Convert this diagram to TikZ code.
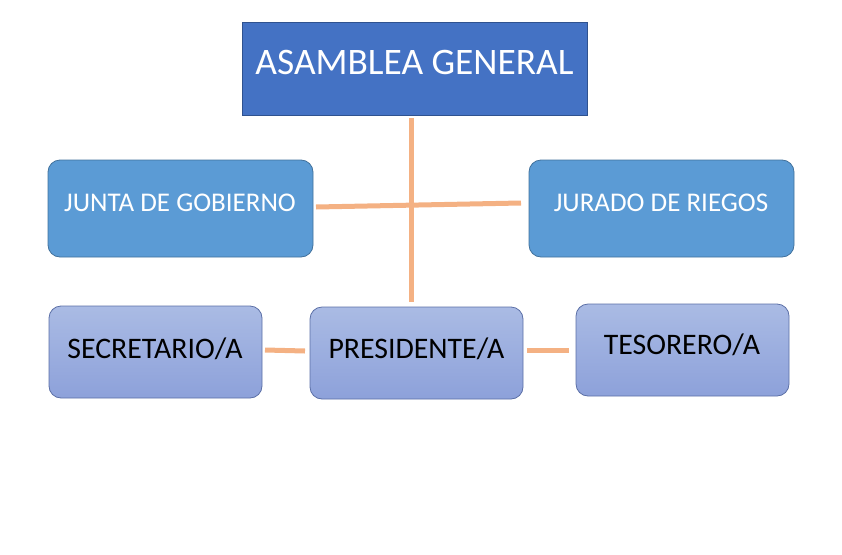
\documentclass[tikz,border=0pt]{standalone}
\usepackage{fontspec}
\setmainfont{Carlito}
\definecolor{topblue}{HTML}{4472C4}
\definecolor{topedge}{HTML}{2F528F}
\definecolor{midblue}{HTML}{5B9BD5}
\definecolor{midedge}{HTML}{41719C}
\definecolor{lavtop}{HTML}{AABBE4}
\definecolor{lavbot}{HTML}{8DA1DA}
\definecolor{lavedge}{HTML}{5B6FA6}
\definecolor{link}{HTML}{F4B183}
\begin{document}
\begin{tikzpicture}[x=1pt,y=-1pt,
  topbox/.style={draw=topedge,fill=topblue,line width=0.8pt,minimum width=345pt,minimum height=93pt,inner sep=0pt},
  midbox/.style={draw=midedge,fill=midblue,line width=0.8pt,rounded corners=12pt,minimum width=265pt,minimum height=97pt,inner sep=0pt},
  lowbox/.style={draw=lavedge,top color=lavtop,bottom color=lavbot,line width=0.8pt,rounded corners=12pt,minimum width=213pt,minimum height=92pt,inner sep=0pt},
  toptext/.style={inner sep=0pt,text=white,font=\fontsize{37.4}{37.4}\selectfont},
  midtext/.style={inner sep=0pt,text=white,font=\fontsize{27}{27}\selectfont},
  lowtext/.style={inner sep=0pt,text=black,font=\fontsize{29.8}{29.8}\selectfont},
  linkline/.style={draw=link,line width=5pt}]
\useasboundingbox (0,0) rectangle (842,554);
\node[topbox] (asam) at (414.5,68.5) {};
\node[toptext] (asamt) at (414.5,62) {ASAMBLEA GENERAL};
\node[midbox] (junta) at (180.5,208.5) {};
\node[midtext] (juntat) at (180,203) {JUNTA DE GOBIERNO};
\node[midbox] (jurado) at (661.5,208.5) {};
\node[midtext] (juradot) at (661,203) {JURADO DE RIEGOS};
\node[lowbox] (secr) at (155.5,352) {};
\node[lowtext] (secrt) at (155,349) {SECRETARIO/A};
\node[lowbox] (pres) at (416.5,353) {};
\node[lowtext] (prest) at (416.5,349) {PRESIDENTE/A};
\node[lowbox] (teso) at (682.5,350) {};
\node[lowtext] (tesot) at (682,345) {TESORERO/A};
\coordinate (vtop) at (411,118);
\coordinate (vbot) at (411,302);
\coordinate (hl) at (316,207);
\coordinate (hr) at (521,203);
\coordinate (s1) at (265,350);
\coordinate (s2) at (305,351);
\coordinate (t1) at (527,350);
\coordinate (t2) at (569,350);
\draw[linkline] (vtop) -- (vbot);
\draw[linkline] (hl) -- (hr);
\draw[linkline] (s1) -- (s2);
\draw[linkline] (t1) -- (t2);
\end{tikzpicture}
\end{document}
